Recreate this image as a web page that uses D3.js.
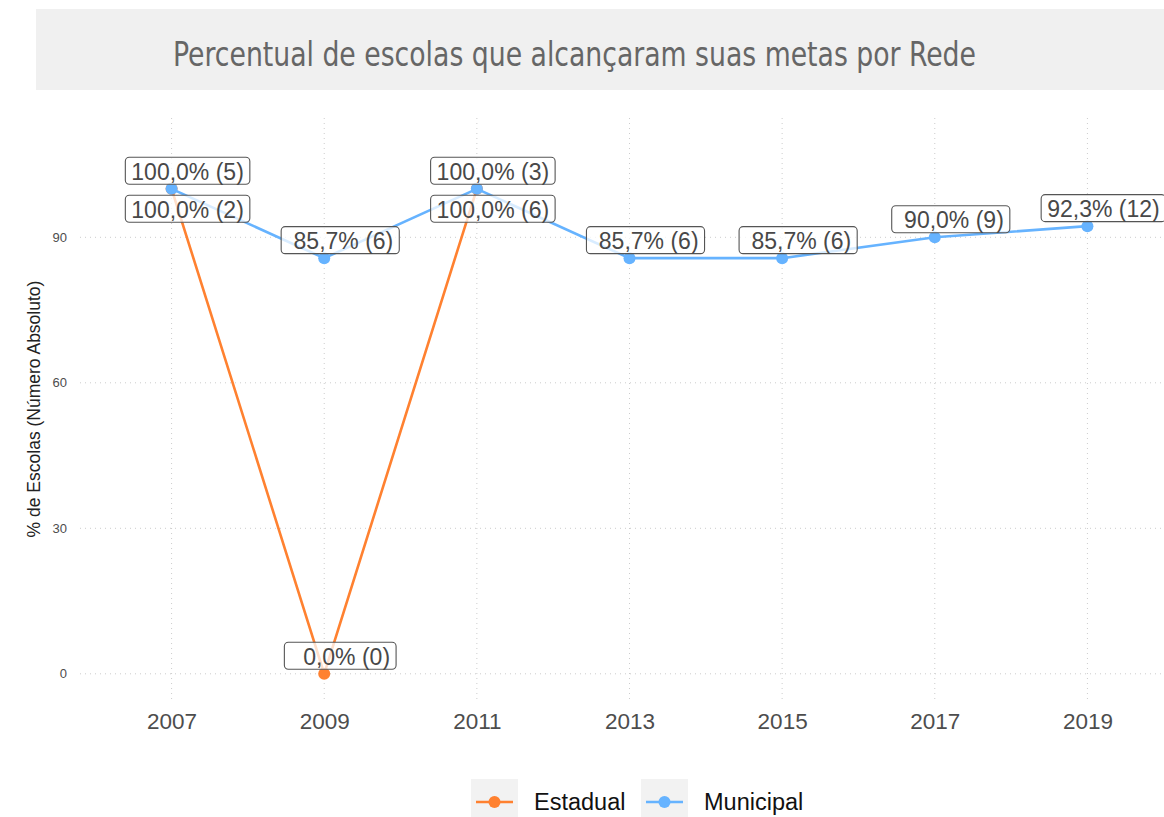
<!DOCTYPE html>
<html>
<head>
<meta charset="utf-8">
<script src="https://cdn.jsdelivr.net/npm/d3@7"></script>
<style>
  html, body { margin: 0; padding: 0; background: #fff; }
  svg { display: block; }
</style>
</head>
<body>
<svg id="chart" width="1164" height="817"></svg>
<script>
// Anos avaliados e percentuais por rede
const years = [2007, 2009, 2011, 2013, 2015, 2017, 2019];
const estadualYears = [2007, 2009, 2011];
const estadualPct = [100.0, 0.0, 100.0];
const estadualN = [2, 0, 6];
const municipalYears = [2007, 2009, 2011, 2013, 2015, 2017, 2019];
const municipalPct = [100.0, 85.7, 100.0, 85.7, 85.7, 90.0, 92.3];
const municipalN = [5, 6, 3, 6, 6, 9, 12];
const yTicks = [0, 30, 60, 90];
const seriesNames = ["Estadual", "Municipal"];
const seriesColors = ["#ff8130", "#66b3ff"];

const svg = d3.select("#chart");
const W = 1164, H = 817;

// Panel geometry
const panel = { left: 80, right: 1179, top: 118, bottom: 700 };

const x = d3.scaleLinear().domain([2005.8, 2020.2]).range([panel.left, panel.right]);
const y = d3.scaleLinear().domain([-5.4, 114.6]).range([panel.bottom, panel.top]);

const sans = "'Liberation Sans', Arial, Helvetica, sans-serif";

// Title banner
svg.append("rect").attr("x", 36).attr("y", 9).attr("width", W - 36).attr("height", 81)
  .attr("fill", "#f0f0f0");
svg.append("text")
  .attr("x", 173).attr("y", 66)
  .attr("font-family", "'Liberation Sans Narrow', 'DejaVu Sans Condensed', sans-serif")
  .attr("font-size", 34)
  .attr("fill", "#666666")
  .attr("textLength", 803)
  .attr("lengthAdjust", "spacingAndGlyphs")
  .text("Percentual de escolas que alcançaram suas metas por Rede");

// Grid lines
const grid = svg.append("g");
grid.selectAll(".hg").data(yTicks).join("line")
  .attr("x1", panel.left).attr("x2", panel.right)
  .attr("y1", d => y(d)).attr("y2", d => y(d))
  .attr("stroke", "#cccccc").attr("stroke-width", 1).attr("stroke-dasharray", "1,4");
grid.selectAll(".vg").data(years).join("line")
  .attr("x1", d => x(d)).attr("x2", d => x(d))
  .attr("y1", panel.top).attr("y2", panel.bottom)
  .attr("stroke", "#cccccc").attr("stroke-width", 1).attr("stroke-dasharray", "1,4");

// Axes (ticks only, no domain lines)
const yAxis = svg.append("g").attr("transform", `translate(${panel.left},0)`)
  .call(d3.axisLeft(y).tickValues(yTicks).tickSize(0).tickPadding(13));
yAxis.select(".domain").remove();
yAxis.selectAll("text").attr("font-family", sans)
  .attr("font-size", 13).attr("fill", "#4d4d4d");

const xAxis = svg.append("g").attr("transform", `translate(0,${panel.bottom})`)
  .call(d3.axisBottom(x).tickValues(years).tickFormat(d3.format("d")).tickSize(0).tickPadding(13));
xAxis.select(".domain").remove();
xAxis.selectAll("text").attr("font-family", sans)
  .attr("font-size", 22.5).attr("fill", "#4d4d4d");

// Y axis title
svg.append("text")
  .attr("transform", `translate(40,${(panel.top + panel.bottom) / 2}) rotate(-90)`)
  .attr("text-anchor", "middle")
  .attr("font-family", sans)
  .attr("font-size", 17.5).attr("fill", "#222")
  .text("% de Escolas (Número Absoluto)");

// Series
const series = [
  { name: seriesNames[0], color: seriesColors[0],
    pts: estadualYears.map((yr, i) => ({ year: yr, pct: estadualPct[i], n: estadualN[i] })) },
  { name: seriesNames[1], color: seriesColors[1],
    pts: municipalYears.map((yr, i) => ({ year: yr, pct: municipalPct[i], n: municipalN[i] })) }
];

const line = d3.line().x(d => x(d.year)).y(d => y(d.pct));
const marks = svg.append("g");
series.forEach(s => {
  marks.append("path").datum(s.pts).attr("d", line)
    .attr("fill", "none").attr("stroke", s.color).attr("stroke-width", 2.6);
  marks.selectAll(null).data(s.pts).join("circle")
    .attr("cx", d => x(d.year)).attr("cy", d => y(d.pct)).attr("r", 6)
    .attr("fill", s.color);
});

// Value labels: "100,0% (5)" with decimal comma, right-aligned to a fixed width
const fmtLabel = (v, n) =>
  (v.toFixed(1).replace(".", ",") + "% (" + n + ")").padStart(10, " ");
const labelSize = 23;
const labels = svg.append("g");
const placed = [];
const order = [series[1], series[0]];
order.forEach(s => {
  s.pts.forEach(d => {
    const txt = fmtLabel(d.pct, d.n);
    const g = labels.append("g");
    const t = g.append("text")
      .attr("font-family", sans).attr("font-size", labelSize)
      .attr("fill", "#484848")
      .attr("xml:space", "preserve")
      .style("white-space", "pre")
      .attr("text-anchor", "middle")
      .attr("dominant-baseline", "central")
      .text(txt);
    const bb = t.node().getBBox();
    const w = bb.width + 12, h = 27;
    const cx = x(d.year) + 16;
    let cy = y(d.pct) - 18;
    const overlaps = c => placed.some(p => Math.abs(p.cx - cx) < (p.w + w) / 2 && Math.abs(p.cy - c) < h);
    if (overlaps(cy)) cy = y(d.pct) + 20;
    placed.push({ cx, cy, w });
    g.insert("rect", "text")
      .attr("x", cx - w / 2).attr("y", cy - h / 2)
      .attr("width", w).attr("height", h)
      .attr("rx", 4).attr("ry", 4)
      .attr("fill", "rgba(255,255,255,0.75)")
      .attr("stroke", "#555555").attr("stroke-width", 1.1);
    t.attr("x", cx).attr("y", cy + 1);
  });
});

// Legend
const legend = svg.append("g");
const legendItems = [
  { name: seriesNames[0], color: seriesColors[0], x: 471 },
  { name: seriesNames[1], color: seriesColors[1], x: 641 }
];
legendItems.forEach(it => {
  legend.append("rect").attr("x", it.x).attr("y", 779).attr("width", 47).attr("height", 38)
    .attr("fill", "#f2f2f2");
  legend.append("line").attr("x1", it.x + 5).attr("x2", it.x + 42)
    .attr("y1", 802).attr("y2", 802)
    .attr("stroke", it.color).attr("stroke-width", 2.6);
  legend.append("circle").attr("cx", it.x + 23.5).attr("cy", 802).attr("r", 6)
    .attr("fill", it.color);
  legend.append("text").attr("x", it.x + 63).attr("y", 802)
    .attr("dominant-baseline", "central")
    .attr("font-family", sans).attr("font-size", 23.5).attr("fill", "#111")
    .text(it.name);
});
</script>
</body>
</html>
